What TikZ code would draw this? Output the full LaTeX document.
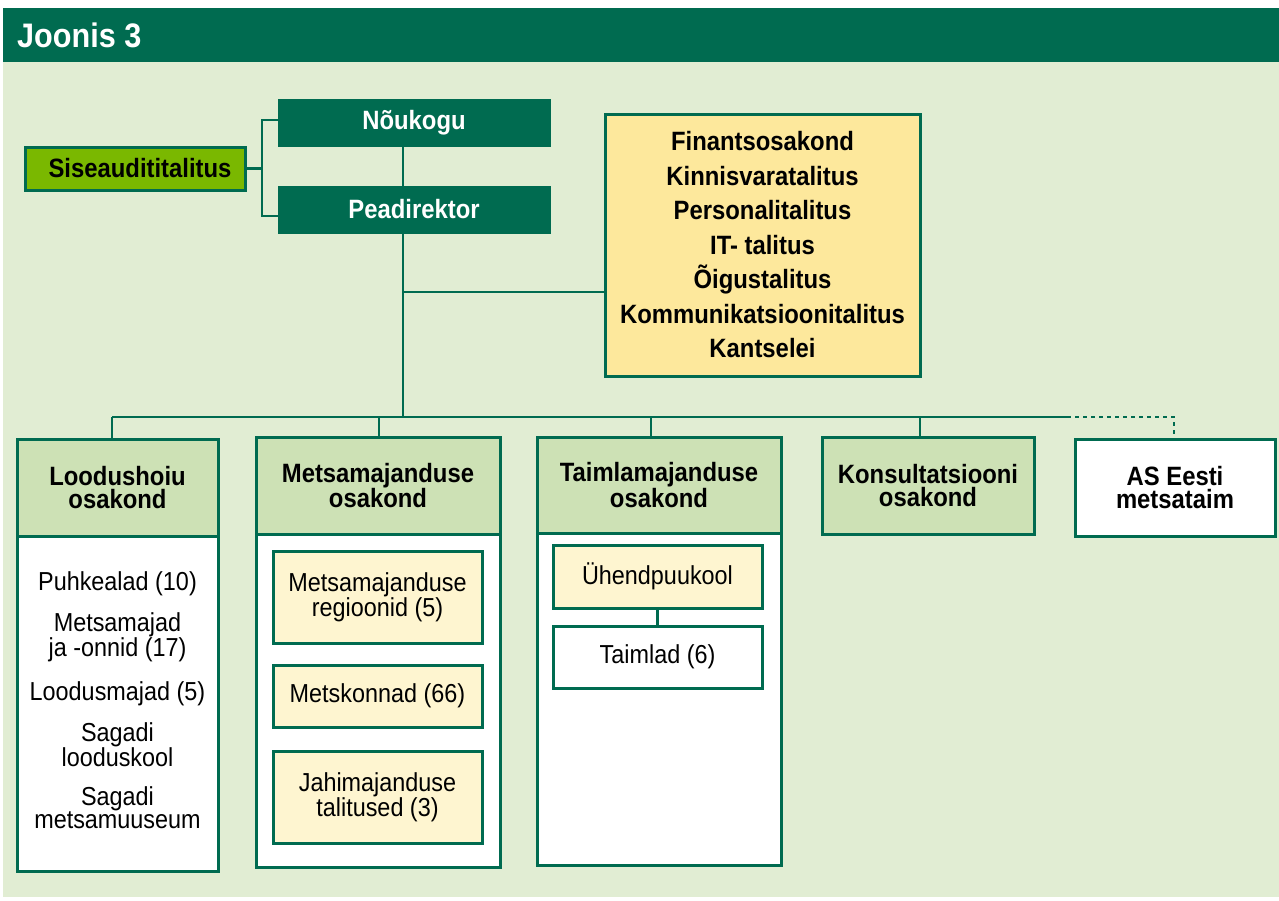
\documentclass[tikz,border=0pt]{standalone}
\usepackage{fontspec}
\setmainfont[FakeStretch=0.9]{Liberation Sans}
\definecolor{dkgreen}{HTML}{006B50}
\definecolor{bgreen}{HTML}{E1EDD3}
\definecolor{limeg}{HTML}{7AB800}
\definecolor{hdrg}{HTML}{CDE1B5}
\definecolor{ybox}{HTML}{FDE89C}
\definecolor{lybox}{HTML}{FEF5D0}
\tikzset{
  box/.style={draw=dkgreen, line width=3pt, inner sep=0pt, align=center},
  hdr/.style={box, fill=hdrg, font=\bfseries\fontsize{26.5}{23.5}\selectfont},
  bodybox/.style={box, fill=white},
  inner/.style={box, fill=lybox, font=\fontsize{26}{23.5}\selectfont},
  topbox/.style={box, fill=dkgreen, text=white, font=\bfseries\fontsize{26.5}{24}\selectfont},
  conn/.style={draw=dkgreen, line width=2.8pt},
  dotconn/.style={draw=dkgreen, line width=2.8pt, dash pattern=on 4pt off 4pt}
}
\begin{document}
\begin{tikzpicture}[x=1pt,y=-1pt]
\useasboundingbox (0,0) rectangle (1279,900);
% background and title
\fill[bgreen] (3,62) rectangle (1279,897);
\fill[dkgreen] (3,8) rectangle (1279,62);
\node[anchor=base west, text=white, font=\bfseries\fontsize{34}{34}\selectfont, inner sep=0pt] (title) at (17,47) {Joonis 3};

% connector junctions
\coordinate (ja) at (262,120);
\coordinate (jb) at (262,216);
\coordinate (yb) at (403,292);
\coordinate (bus) at (403,417);
\coordinate (busL) at (112,417);
\coordinate (d2) at (379,417);
\coordinate (d3) at (651,417);
\coordinate (d4) at (920,417);
\coordinate (busR) at (1067,417);
\coordinate (d5) at (1174,417);

% top boxes
\node[topbox, minimum width=270, minimum height=45] (noukogu) at (414,122.5) {\raisebox{-2pt}{Nõukogu}};
\node[topbox, minimum width=270, minimum height=45] (peadir) at (414,209.5) {Peadirektor};
\node[box, fill=limeg, minimum width=220, minimum height=43, font=\bfseries\fontsize{26.5}{24}\selectfont] (sise) at (135,168.5) {\hspace{10pt}Siseaudititalitus};
\node[box, fill=ybox, minimum width=315, minimum height=262, font=\bfseries\fontsize{26.5}{34.5}\selectfont] (yellow) at (762.5,245)
  {Finantsosakond\\Kinnisvaratalitus\\Personalitalitus\\IT- talitus\\Õigustalitus\\Kommunikatsioonitalitus\\Kantselei};

% department bodies
\node[bodybox, minimum width=201, minimum height=335] (b1) at (117.5,703.5) {};
\node[bodybox, minimum width=244, minimum height=333] (b2) at (378,700.5) {};
\node[bodybox, minimum width=244, minimum height=332] (b3) at (659,699) {};

% department headers
\node[hdr, minimum width=201, minimum height=97] (h1) at (117.5,487.5) {Loodushoiu\\osakond};
\node[hdr, minimum width=244, minimum height=97] (h2) at (378,485.5) {Metsamajanduse\\osakond};
\node[hdr, minimum width=244, minimum height=96] (h3) at (659,485) {Taimlamajanduse\\osakond};
\node[hdr, minimum width=212, minimum height=97] (h4) at (928,485.5) {Konsultatsiooni\\osakond};
\node[hdr, fill=white, minimum width=200, minimum height=97] (h5) at (1175,487.5) {AS Eesti\\metsataim};

% Loodushoiu items
\node[align=center, inner sep=0pt, font=\fontsize{26}{23}\selectfont] (lood) at (117.5,700)
  {Puhkealad (10)\\[16pt]Metsamajad\\ja -onnid (17)\\[19pt]Loodusmajad (5)\\[15pt]Sagadi\\looduskool\\[16pt]Sagadi\\metsamuuseum};

% Metsamajanduse inner boxes
\node[inner, minimum width=209, minimum height=92] (i21) at (377.5,597) {Metsamajanduse\\regioonid (5)};
\node[inner, minimum width=209, minimum height=62] (i22) at (377.5,696) {Metskonnad (66)};
\node[inner, minimum width=209, minimum height=92] (i23) at (377.5,797) {Jahimajanduse\\talitused (3)};

% Taimlamajanduse inner boxes
\node[inner, minimum width=209, minimum height=63] (i31) at (657.5,576.5) {Ühendpuukool};
\node[inner, fill=white, minimum width=209, minimum height=62] (i32) at (657.5,657) {Taimlad (6)};

% connectors
\draw[conn] (sise.east) -- (sise.east -| ja);
\draw[conn] (noukogu.west |- ja) -- (ja) -- (jb) -- (peadir.west |- jb);
\draw[conn] (bus |- noukogu.south) -- (bus |- peadir.north);
\draw[conn] (bus |- peadir.south) -- (bus);
\draw[conn] (yb) -- (yb -| yellow.west);
\draw[conn] (busL) -- (busR);
\draw[conn] (busL) -- (busL |- h1.north);
\draw[conn] (d2) -- (d2 |- h2.north);
\draw[conn] (d3) -- (d3 |- h3.north);
\draw[conn] (d4) -- (d4 |- h4.north);
\draw[dotconn] (busR) -- (d5) -- (d5 |- h5.north);
\draw[conn] (i31.south) -- (i32.north);
\end{tikzpicture}
\end{document}
